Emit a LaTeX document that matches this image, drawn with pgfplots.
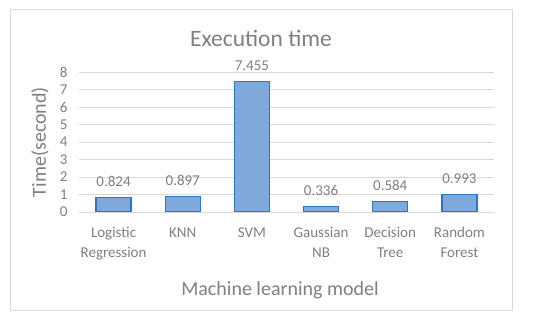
\documentclass[border=0pt]{standalone}
\usepackage{pgfplots}
\pgfplotsset{compat=1.18}
\usepackage{fontspec}
\setmainfont{Carlito}
\definecolor{txt}{HTML}{808080}
\definecolor{barfill}{HTML}{7FA9DB}
\definecolor{baredge}{HTML}{2E75C6}
\definecolor{gridc}{HTML}{D9D9D9}
\begin{document}
\begin{tikzpicture}[x=1pt,y=1pt]
\path[fill=white] (0,0) rectangle (550,322);
\draw[gridc, line width=0.8pt] (10,11.5) rectangle (512,312.5);
\node[txt, font=\fontsize{23.5}{26}\selectfont] at (261,284) {Execution time};
\node[txt, font=\fontsize{20}{24}\selectfont] at (280,32) {Machine learning model};
\begin{axis}[
  at={(79pt,110pt)}, anchor=south west,
  scale only axis, width=415pt, height=140pt,
  xmin=-0.5, xmax=5.5, ymin=0, ymax=8,
  ytick={0,1,...,8},
  xtick=data,
  xticklabels={{Logistic\\Regression},KNN,SVM,{Gaussian\\NB},{Decision\\Tree},{Random\\Forest}},
  xticklabel style={align=center, text=txt, font=\fontsize{15}{19.5}\selectfont, yshift=-12pt},
  yticklabel style={text=txt, font=\fontsize{15}{17}\selectfont, xshift=-8pt},
  /pgf/number format/assume math mode=true,
  ymajorgrids, grid style={gridc, line width=0.8pt},
  axis line style={draw=none},
  major tick length=0pt,
  ylabel={Time(second)},
  ylabel style={txt, font=\fontsize{20}{24}\selectfont, at={(axis description cs:-0.094,0.5)}, anchor=center},
  nodes near coords,
  nodes near coords style={txt, font=\fontsize{15}{17}\selectfont, yshift=7pt, /pgf/number format/fixed, /pgf/number format/precision=3, /pgf/number format/fixed zerofill, /pgf/number format/assume math mode=true},
  clip=false,
]
\addplot[ybar, bar width=35pt, fill=barfill, draw=baredge, line width=1.2pt]
  coordinates {(0,0.824) (1,0.897) (2,7.455) (3,0.336) (4,0.584) (5,0.993)};
\draw[gridc, line width=0.8pt] (axis cs:-0.5,0) -- (axis cs:5.5,0);
\end{axis}
\end{tikzpicture}
\end{document}
